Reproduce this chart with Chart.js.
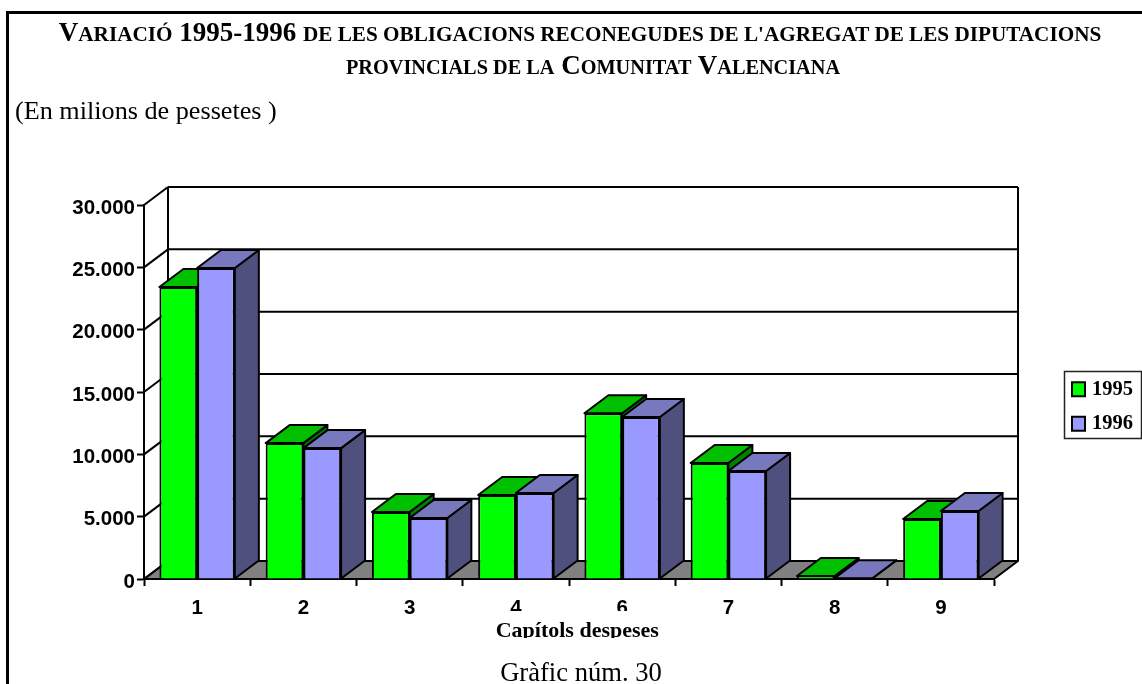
<!DOCTYPE html>
<html>
<head>
<meta charset="utf-8">
<script src="https://cdn.jsdelivr.net/npm/chart.js@4"></script>
<style>
    html, body { margin: 0; padding: 0; background: #fff; overflow: hidden; }
    #marc { position: absolute; left: 6px; top: 11px; width: 1136px; height: 673px; box-sizing: border-box; border-left: 3px solid #000; border-top: 3px solid #000; }
    #grafica { position: absolute; left: 0; top: 0; }
    .txt { position: absolute; font-family: "Liberation Serif", serif; color: #000; white-space: nowrap; }
    #titol { left: 0; width: 1160px; top: 17px; text-align: center; font-size: 27px; font-weight: bold; line-height: 31px; }
    #titol small { font-size: 20.3px; }
    #linia1 small { font-size: 21.2px; }
    #linia2 { padding-left: 26px; }
    #subtitol { left: 15px; top: 96px; font-size: 26.2px; line-height: 30px; }
    #peu { left: 0; width: 1162px; top: 657px; text-align: center; font-size: 26.6px; line-height: 30px; }
</style>
</head>
<body>
<div id="marc"></div>
<canvas id="grafica" width="1142" height="684"></canvas>
<div class="txt" id="titol"><span id="linia1">V<small>ARIACIÓ</small> 1995-1996 <small>DE LES OBLIGACIONS RECONEGUDES DE L'AGREGAT DE LES DIPUTACIONS</small></span><br><span id="linia2"><small>PROVINCIALS DE LA</small> C<small>OMUNITAT</small> V<small>ALENCIANA</small></span></div>
<div class="txt" id="subtitol">(En milions de pessetes )</div>
<div class="txt" id="peu">Gràfic núm. 30</div>
<script>
    let capitols = ["1", "2", "3", "4", "6", "7", "8", "9"];
    let any1995 = [23420, 10900, 5370, 6740, 13300, 9300, 240, 4810];
    let any1996 = [24950, 10500, 4890, 6900, 13000, 8660, 60, 5450];
    let etiquetesY = [0, 5000, 10000, 15000, 20000, 25000, 30000];

    const fonsX = 24;
    const fonsY = 18;

    function linia(ctx, x1, y1, x2, y2) {
        ctx.beginPath();
        ctx.moveTo(x1, y1);
        ctx.lineTo(x2, y2);
        ctx.stroke();
    }

    function cara(ctx, punts, color) {
        ctx.beginPath();
        ctx.moveTo(punts[0][0], punts[0][1]);
        for (let i = 1; i < punts.length; i++) ctx.lineTo(punts[i][0], punts[i][1]);
        ctx.closePath();
        ctx.fillStyle = color;
        ctx.fill();
        ctx.stroke();
    }

    let coloresCara = [
        { dalt: "#00C000", costat: "#008000" },
        { dalt: "#7878BE", costat: "#50507F" }
    ];

    // parets, terra i cares laterals de les barres
    let efecte3d = {
        id: "efecte3d",
        beforeDatasetsDraw(chart) {
            let ctx = chart.ctx;
            let a = chart.chartArea;
            let y = chart.scales.y;
            ctx.save();
            ctx.strokeStyle = "#000";
            ctx.lineWidth = 2;
            ctx.lineJoin = "round";

            cara(ctx, [[a.left, a.bottom], [a.left + fonsX, a.bottom - fonsY], [a.right + fonsX, a.bottom - fonsY], [a.right, a.bottom]], "#808080");
            linia(ctx, a.left + fonsX, a.top - fonsY, a.left + fonsX, a.bottom - fonsY);
            linia(ctx, a.right + fonsX, a.top - fonsY, a.right + fonsX, a.bottom - fonsY);
            etiquetesY.forEach(function (v) {
                let py = y.getPixelForValue(v);
                linia(ctx, a.left, py, a.left + fonsX, py - fonsY);
                linia(ctx, a.left + fonsX, py - fonsY, a.right + fonsX, py - fonsY);
            });

            chart.data.labels.forEach(function (c, j) {
                [0, 1].forEach(function (d) {
                    let b = chart.getDatasetMeta(d).data[j];
                    let esq = b.x - b.width / 2;
                    let dre = b.x + b.width / 2;
                    cara(ctx, [[dre, b.y], [dre + fonsX, b.y - fonsY], [dre + fonsX, b.base - fonsY], [dre, b.base]], coloresCara[d].costat);
                    cara(ctx, [[esq, b.y], [esq + fonsX, b.y - fonsY], [dre + fonsX, b.y - fonsY], [dre, b.y]], coloresCara[d].dalt);
                });
            });
            ctx.restore();
        },
        afterLayout(chart) {
            // la llegenda va a la dreta, fora de l'area del grafic
            let l = chart.legend;
            l.left = 1058;
            l.right = 1133;
            l.top = 365;
            l.bottom = 480;
        },
        beforeDraw(chart) {
            let ctx = chart.ctx;
            ctx.save();
            ctx.strokeStyle = "#222";
            ctx.lineWidth = 1.5;
            ctx.strokeRect(1064.5, 371.5, 77, 67);
            ctx.restore();
        },
        afterDraw(chart) {
            // la caixa del titol de l'eix tapa part de les etiquetes
            let ctx = chart.ctx;
            ctx.save();
            ctx.fillStyle = "#fff";
            ctx.fillRect(480, 611, 200, 10);
            ctx.fillRect(480, 638, 200, 12);
            ctx.restore();
        }
    };

    let ctx = document.getElementById("grafica").getContext("2d");
    let miGrafica = new Chart(ctx, {
        type: "bar",
        data: {
            labels: capitols,
            datasets: [{
                label: "1995",
                data: any1995,
                backgroundColor: "#00FF00",
                borderColor: "#000",
                borderWidth: 2
            }, {
                label: "1996",
                data: any1996,
                backgroundColor: "#9999FF",
                borderColor: "#000",
                borderWidth: 2
            }]
        },
        options: {
            responsive: false,
            animation: false,
            layout: { padding: { left: 0, right: 148, top: 205, bottom: 0 } },
            datasets: { bar: { barPercentage: 1, categoryPercentage: 0.71 } },
            scales: {
                x: {
                    afterFit: function (s) { s.height = 105; },
                    grid: { drawOnChartArea: false, color: "#000", tickColor: "#000", tickWidth: 2, tickLength: 7 },
                    border: { color: "#000", width: 2 },
                    ticks: { color: "#000", padding: 10, maxRotation: 0, font: { family: "Liberation Sans", size: 20.5, weight: "bold" } },
                    title: {
                        display: true,
                        text: "\u00A0\u00A0\u00A0Capítols despeses",
                        color: "#000",
                        font: { family: "Liberation Serif", size: 22, weight: "bold" },
                        padding: { top: 0, bottom: 39 }
                    }
                },
                y: {
                    min: 0,
                    max: 30000,
                    afterFit: function (s) { s.width = 144; },
                    afterBuildTicks: function (s) { s.ticks = etiquetesY.map(function (v) { return { value: v }; }); },
                    grid: { drawOnChartArea: false, color: "#000", tickColor: "#000", tickWidth: 2, tickLength: 7 },
                    border: { color: "#000", width: 2 },
                    ticks: {
                        color: "#000",
                        padding: 2,
                        labelOffset: 3,
                        font: { family: "Liberation Sans", size: 20.5, weight: "bold" },
                        callback: function (v) { return String(v).replace(/\B(?=(\d{3})+$)/g, "."); }
                    }
                }
            },
            plugins: {
                title: { display: false },
                tooltip: { enabled: false },
                legend: {
                    position: "chartArea",
                    align: "start",
                    labels: {
                        boxWidth: 13,
                        boxHeight: 14,
                        padding: 14,
                        textAlign: "right",
                        color: "#000",
                        font: { family: "Liberation Serif", size: 20.5, weight: "bold" }
                    }
                }
            }
        },
        plugins: [efecte3d]
    });
</script>
</body>
</html>
